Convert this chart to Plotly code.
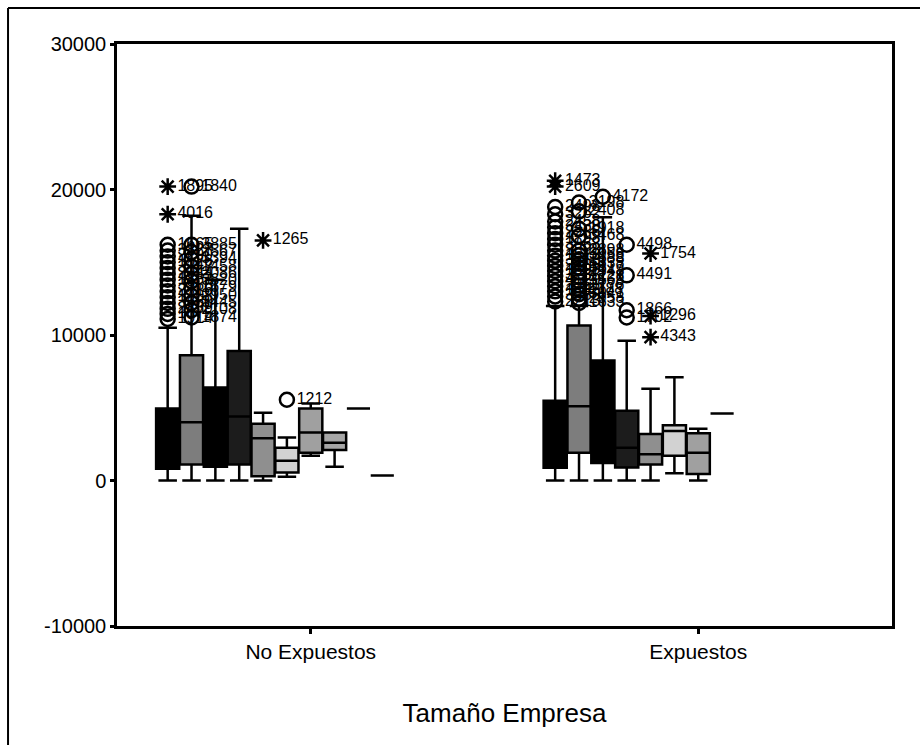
import plotly.graph_objects as go

# Clustered boxplot: monthly amount by exposure group, one box per company-size class
GROUPS = ["No Expuestos", "Expuestos"]
N_SLOTS = 13          # size classes reserved per cluster
CLUSTER_WIDTH = 0.8   # fraction of a category occupied by a cluster

# --- No Expuestos: box statistics per size class ---
NE_Q1 = [800, 1100, 950, 1100, 300, 550, 1900, 2100, 4950, 350]
NE_MED = [2500, 4000, 3100, 4400, 2900, 1350, 3300, 2600, 4950, 350]
NE_Q3 = [4950, 8600, 6400, 8900, 3900, 2250, 4950, 3300, 4950, 350]
NE_LO = [0, 0, 0, 0, 0, 250, 1700, 950, 4950, 350]
NE_HI = [10500, 18200, 13800, 17300, 4650, 2950, 5300, 3300, 4950, 350]

# --- Expuestos: box statistics per size class ---
EX_Q1 = [870, 1900, 1200, 900, 1100, 1700, 450, 4600]
EX_MED = [2500, 5100, 3500, 2250, 1800, 3400, 1900, 4600]
EX_Q3 = [5480, 10650, 8250, 4800, 3200, 3800, 3250, 4600]
EX_LO = [0, 0, 0, 0, 0, 500, 0, 4600]
EX_HI = [12000, 12000, 18100, 9600, 6300, 7100, 3550, 4600]

# --- Outliers (o) and extremes (*) with case numbers ---
NE_OUT_SLOT = [0] * 14 + [0, 0] + [1] * 11 + [1, 4, 5]
NE_OUT_VAL = [11100, 11450, 11800, 12200, 12600, 13000, 13400, 13800, 14200,
              14600, 15000, 15400, 15800, 16200,
              18300, 20200,
              11200, 11700, 12200, 12700, 13200, 13700, 14200, 14700, 15200,
              15700, 16200,
              20200, 16500, 5550]
NE_OUT_KIND = ["o"] * 14 + ["*", "*"] + ["o"] * 11 + ["o", "*", "o"]
NE_OUT_LABEL = ["1914", "1075", "2439", "3360", "1208", "2716", "3958", "1862",
                "2044", "3147", "1526", "2290", "3327", "1665",
                "4016", "1895",
                "1874", "2108", "3445", "2950", "1679", "3620", "2086", "1458",
                "3394", "2567", "3885",
                "1840", "1265", "1212"]

EX_OUT_SLOT = [0] * 18 + [0, 0] + [1] * 17 + [2, 3, 3, 3, 3, 4, 4, 4]
EX_OUT_VAL = [12300, 12650, 13000, 13350, 13700, 14050, 14400, 14750, 15100,
              15450, 15800, 16200, 16600, 17000, 17400, 17800, 18300, 18800,
              20600, 20200,
              12200, 12500, 12800, 13100, 13400, 13700, 14000, 14300, 14600,
              14900, 15200, 15500, 15800, 16800, 17300, 18500, 19100,
              19500, 16200, 14100, 11700, 11200, 15600, 11300, 9850]
EX_OUT_KIND = ["o"] * 18 + ["*", "*"] + ["o"] * 17 + ["o"] * 5 + ["*"] * 3
EX_OUT_LABEL = ["2213", "3985", "1443", "2361", "4120", "3238", "1697", "2805",
                "3313", "1513", "2898", "3968", "1798", "2256", "3438", "2458",
                "3262", "2498",
                "1473", "2609",
                "1633", "2958", "3041", "1188", "2776", "3568", "1228", "2948",
                "3817", "1338", "2688", "3958", "2898", "3468", "1918", "2408",
                "3198",
                "4172", "4498", "4491", "1866", "1702", "1754", "1296", "4343"]

Y_TICKS = [-10000, 0, 10000, 20000, 30000]
Y_TICK_TEXT = ["-10000", "0", "10000", "20000", "30000"]

# fill per size class (same class -> same fill in both clusters)
SLOT_FILLS = ["#000000", "#7d7d7d", "#000000", "#1c1c1c", "#8f8f8f",
              "#d2d2d2", "#a0a0a0", "#a6a6a6", "#000000", "#000000",
              "#000000", "#000000", "#000000"]

FONT = "Liberation Sans, Arial, sans-serif"
slot_w = CLUSTER_WIDTH / N_SLOTS


def slot_x(group_idx, slot):
    center = group_idx + 0.5
    return center - CLUSTER_WIDTH / 2 + (slot + 0.5) * slot_w


fig = go.Figure()

box_sets = [
    (0, NE_Q1, NE_MED, NE_Q3, NE_LO, NE_HI),
    (1, EX_Q1, EX_MED, EX_Q3, EX_LO, EX_HI),
]
for g, q1, med, q3, lo, hi in box_sets:
    for k in range(len(q1)):
        fig.add_trace(go.Box(
            x=[slot_x(g, k)], q1=[q1[k]], median=[med[k]], q3=[q3[k]],
            lowerfence=[lo[k]], upperfence=[hi[k]],
            width=slot_w * 0.97, whiskerwidth=0.8,
            fillcolor=SLOT_FILLS[k],
            line=dict(color="black", width=2.5),
            boxpoints=False, hoverinfo="skip", showlegend=False,
        ))

out_sets = [
    (0, NE_OUT_SLOT, NE_OUT_VAL, NE_OUT_KIND, NE_OUT_LABEL),
    (1, EX_OUT_SLOT, EX_OUT_VAL, EX_OUT_KIND, EX_OUT_LABEL),
]
for g, slots, vals, kinds, labels in out_sets:
    for kind, sym, size in (("o", "circle-open", 14), ("*", "asterisk-open", 14)):
        idx = [i for i, kd in enumerate(kinds) if kd == kind]
        if not idx:
            continue
        fig.add_trace(go.Scatter(
            x=[slot_x(g, slots[i]) for i in idx],
            y=[vals[i] for i in idx],
            text=[labels[i] for i in idx],
            mode="markers+text", textposition="middle right",
            textfont=dict(family=FONT, size=16, color="black"),
            marker=dict(symbol=sym, size=size, color="black",
                        line=dict(width=2.5, color="black")),
            hoverinfo="skip", showlegend=False,
        ))

fig.update_layout(
    width=920, height=745,
    margin=dict(l=117, r=28, t=44, b=119),
    paper_bgcolor="white", plot_bgcolor="white",
    font=dict(family=FONT, size=20, color="black"),
    xaxis=dict(
        range=[0, 2], tickvals=[0.5, 1.5], ticktext=GROUPS,
        showgrid=False, zeroline=False,
        showline=True, linecolor="black", linewidth=2.5, mirror=True,
        ticks="outside", ticklen=5, tickwidth=3, tickcolor="black",
        tickfont=dict(size=21),
        title=dict(text="Tamaño Empresa", font=dict(size=26), standoff=42),
    ),
    yaxis=dict(
        range=[-10000, 30000], tickvals=Y_TICKS, ticktext=Y_TICK_TEXT,
        showgrid=False, zeroline=False,
        showline=True, linecolor="black", linewidth=2.5, mirror=True,
        ticks="outside", ticklen=4, tickwidth=3, tickcolor="black",
        tickfont=dict(size=20),
    ),
    shapes=[
        # outer frame of the figure (top and left edges)
        dict(type="line", xref="paper", yref="paper",
             x0=-0.1406, x1=1.05, y0=1.0619, y1=1.0619,
             line=dict(color="black", width=2)),
        dict(type="line", xref="paper", yref="paper",
             x0=-0.1406, x1=-0.1406, y0=1.0619, y1=-0.22,
             line=dict(color="black", width=2)),
    ],
)

fig.write_html("out.html")
